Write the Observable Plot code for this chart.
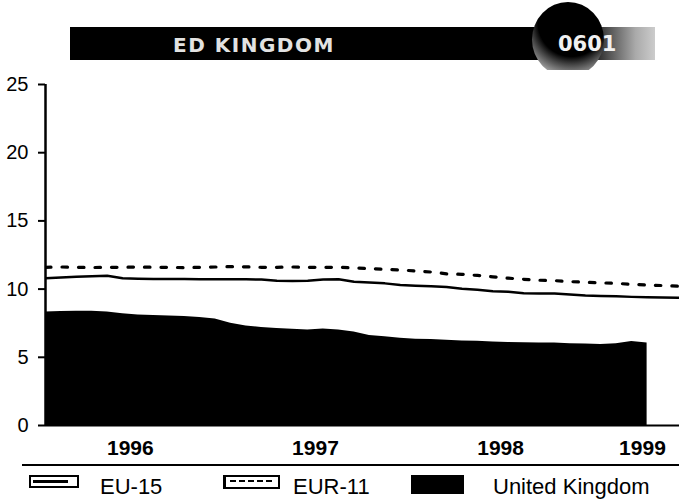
<!DOCTYPE html>
<html>
<head>
<meta charset="utf-8">
<script src="https://cdn.jsdelivr.net/npm/d3@7"></script>
<script src="https://cdn.jsdelivr.net/npm/@observablehq/plot@0.6"></script>
<style>
  body { margin: 0; background: #fff; }
  #wrap { position: relative; width: 679px; height: 502px; overflow: hidden; font-family: "Liberation Sans", Arial, sans-serif; color: #000; }
  .abs { position: absolute; }
  .lt { position: absolute; font-size: 22px; line-height: 22px; white-space: nowrap; }
</style>
</head>
<body>
<div id="wrap">
  <!-- header banner -->
  <div class="abs" style="left:70px;top:27px;width:470px;height:33px;background:#000;"></div>
  <div class="abs" style="left:590px;top:27px;width:65px;height:33px;background:linear-gradient(90deg,#111 0%,#555 30%,#aaa 70%,#ccc 100%);"></div>
  <div class="abs" style="left:532px;top:2px;width:72px;height:75px;border-radius:50%;background:radial-gradient(circle at 55% 28%, #000 0%, #000 50%, #444 62%, #999 78%, #ddd 100%);"></div>
  <div class="abs" id="hdrTitle" style="left:173px;top:34px;font-family:'DejaVu Sans',sans-serif;font-weight:bold;font-size:20px;line-height:22px;letter-spacing:1.5px;color:#e2e2e2;"></div>
  <div class="abs" id="hdrCode" style="left:558px;top:33px;font-family:'DejaVu Sans',sans-serif;font-weight:bold;font-size:21px;line-height:22px;color:#f0f0f0;"></div>
  <!-- chart -->
  <div class="abs" id="chart" style="left:0;top:70px;"></div>
  <!-- separator -->
  <div class="abs" style="left:22px;top:464px;width:657px;height:2px;background:#000;"></div>
  <!-- legend -->
  <div class="abs" style="left:29px;top:475px;width:46px;height:9px;border:2px solid #000;"></div>
  <div class="abs" style="left:33px;top:480px;width:35px;height:3px;background:#000;"></div>
  <div class="lt" id="lg0" style="left:100px;top:476px;"></div>
  <div class="abs" style="left:223px;top:475px;width:52px;height:10px;border:2px solid #000;border-left-width:3px;"></div>
  <div class="abs" style="left:230px;top:480px;width:42px;height:0;border-top:2px dashed #000;"></div>
  <div class="lt" id="lg1" style="left:293px;top:476px;"></div>
  <div class="abs" style="left:411px;top:475px;width:53px;height:19px;background:#000;"></div>
  <div class="lt" id="lg2" style="left:493px;top:476px;"></div>
</div>
<script>
// ---- texts ----
const headerTitle = "ED KINGDOM";
const headerCode = "0601";
const seriesNames = ["EU-15", "EUR-11", "United Kingdom"];

// ---- axis ticks ----
const yTicks = [0, 5, 10, 15, 20, 25];
const yearLabels = ["1996", "1997", "1998", "1999"];
const yearPositions = [5.5, 17.5, 29.5, 38.7]; // month index where each year label sits

// ---- monthly values (index 0 = start of 1996) ----
const eu15 = [10.8, 10.85, 10.9, 10.95, 10.98, 10.8, 10.76, 10.74, 10.74, 10.74,
  10.73, 10.72, 10.72, 10.72, 10.7, 10.61, 10.6, 10.62, 10.7, 10.72,
  10.54, 10.48, 10.42, 10.3, 10.24, 10.2, 10.15, 10.02, 9.96, 9.85,
  9.8, 9.7, 9.68, 9.68, 9.6, 9.53, 9.5, 9.47, 9.43, 9.4,
  9.38, 9.36, 9.35];
const eur11 = [11.6, 11.62, 11.6, 11.58, 11.6, 11.6, 11.62, 11.6, 11.6, 11.57,
  11.6, 11.62, 11.65, 11.63, 11.6, 11.6, 11.62, 11.6, 11.6, 11.6,
  11.55, 11.5, 11.45, 11.4, 11.33, 11.25, 11.12, 11.08, 11.0, 10.9,
  10.8, 10.72, 10.65, 10.62, 10.55, 10.5, 10.46, 10.42, 10.35, 10.3,
  10.26, 10.22, 10.2];
const uk = [8.33, 8.36, 8.38, 8.38, 8.32, 8.2, 8.1, 8.06, 8.03, 8.0,
  7.92, 7.8, 7.5, 7.3, 7.18, 7.11, 7.06, 7.0, 7.08, 7.0,
  6.85, 6.6, 6.5, 6.4, 6.32, 6.3, 6.25, 6.2, 6.18, 6.12,
  6.08, 6.06, 6.05, 6.05, 6.0, 5.97, 5.93, 6.0, 6.15, 6.05];

const rows = arr => arr.map((v, i) => ({i, v}));
const yearLabelAt = new Map(yearPositions.map((p, k) => [p, yearLabels[k]]));

document.getElementById("hdrTitle").textContent = headerTitle;
document.getElementById("hdrCode").textContent = headerCode;
document.getElementById("lg0").textContent = seriesNames[0];
document.getElementById("lg1").textContent = seriesNames[1];
document.getElementById("lg2").textContent = seriesNames[2];

const chart = Plot.plot({
  width: 679,
  height: 392,
  marginLeft: 45,
  marginRight: 0,
  marginTop: 14,
  marginBottom: 37,
  x: {domain: [0, 41.1]},
  y: {domain: [0, 25]},
  style: {fontFamily: "'Liberation Sans', Arial, sans-serif", background: "white", color: "black", overflow: "visible"},
  marks: [
    Plot.areaY(rows(uk), {x: "i", y: "v", fill: "black", clip: true}),
    Plot.lineY(rows(eu15), {x: "i", y: "v", stroke: "black", strokeWidth: 2.5, clip: true}),
    Plot.lineY(rows(eur11), {x: "i", y: "v", stroke: "black", strokeWidth: 3.2, strokeDasharray: "5.5,11", clip: true}),
    Plot.ruleY([0], {stroke: "black", strokeWidth: 2}),
    Plot.ruleX([0], {y1: 0, y2: 25, stroke: "black", strokeWidth: 2.5}),
    Plot.axisY({ticks: yTicks, tickSize: 7, tickPadding: 10, fontSize: 20, strokeWidth: 2, label: null}),
    Plot.axisX({ticks: yearPositions, tickFormat: d => yearLabelAt.get(d), tickSize: 0, tickPadding: 15, fontSize: 21, fontWeight: "bold", label: null})
  ]
});
document.getElementById("chart").appendChild(chart);
</script>
</body>
</html>
